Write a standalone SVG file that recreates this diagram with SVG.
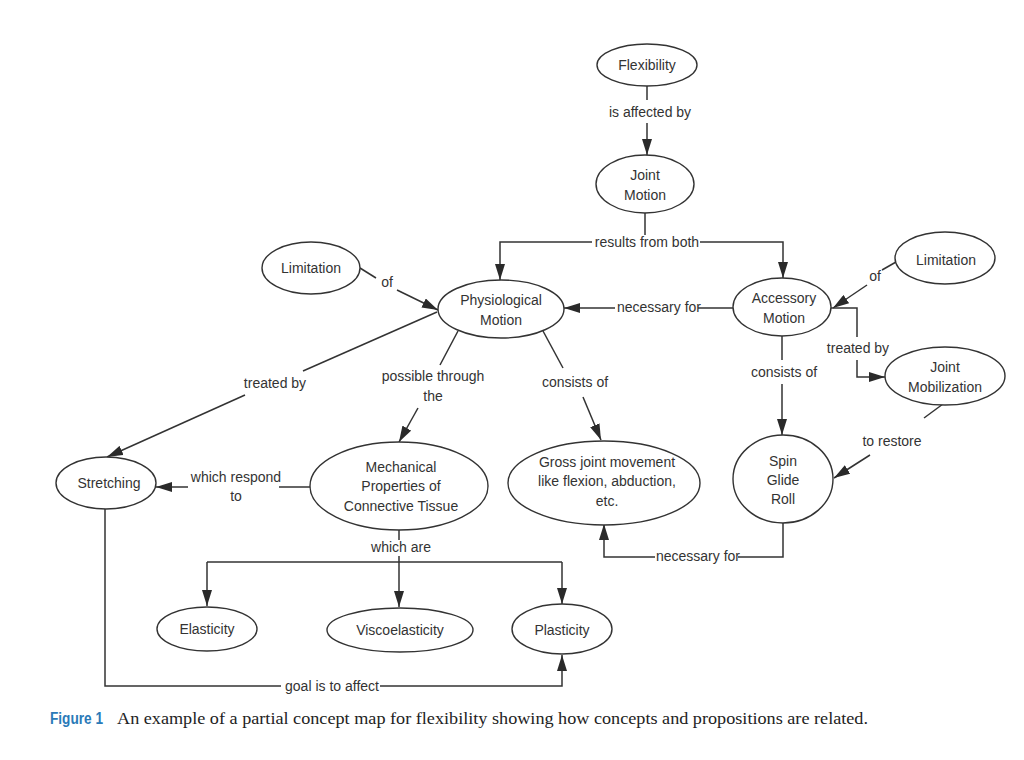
<svg xmlns="http://www.w3.org/2000/svg" width="1024" height="760" viewBox="0 0 1024 760">
<style>
.n ellipse{fill:#fff;stroke:#333;stroke-width:1.4}
text{font-family:"Liberation Sans",Arial,sans-serif;font-size:14px;fill:#333;text-anchor:middle}
.c path,.c line{fill:none;stroke:#333;stroke-width:1.5}
.a{marker-end:url(#ah)}
.cap{font-family:"Liberation Serif",serif;font-size:16px;fill:#222;text-anchor:start}
.fig{font-family:"Liberation Sans",sans-serif;font-weight:bold;font-size:16px;fill:#2a7ab8;text-anchor:start}
</style>
<defs>
<marker id="ah" markerUnits="userSpaceOnUse" markerWidth="17" markerHeight="10" refX="16" refY="5" orient="auto">
<path d="M0,0 L16,5 L0,10 Z" fill="#2a2a2a"/>
</marker>
</defs>
<rect width="1024" height="760" fill="#fff"/>
<g class="c" id="connectors">
<line x1="647" y1="86" x2="647" y2="100"/>
<line class="a" x1="647" y1="123" x2="647" y2="155"/>
<line x1="645" y1="213" x2="645" y2="235"/>
<path class="a" d="M592,242 H500 V280"/>
<path class="a" d="M700,242 H783 V278"/>
<line x1="360" y1="268" x2="376" y2="278"/>
<line class="a" x1="397" y1="290" x2="438" y2="310"/>
<line x1="735" y1="308" x2="698" y2="308"/>
<line class="a" x1="615" y1="308" x2="564" y2="308"/>
<line x1="896" y1="262" x2="882" y2="270"/>
<line class="a" x1="867" y1="285" x2="833" y2="308"/>
<path d="M831,308 H857 V337"/>
<path class="a" d="M857,360 V377 H885"/>
<line x1="782" y1="336" x2="782" y2="360"/>
<line class="a" x1="782" y1="384" x2="782" y2="435"/>
<line x1="943" y1="404" x2="924" y2="418"/>
<line class="a" x1="870" y1="455" x2="834" y2="478"/>
<line x1="437" y1="312" x2="303" y2="371"/>
<line class="a" x1="245" y1="395" x2="107" y2="457"/>
<line x1="458" y1="331" x2="440" y2="365"/>
<line class="a" x1="418" y1="408" x2="399" y2="442"/>
<line x1="543" y1="331" x2="563" y2="368"/>
<line class="a" x1="583" y1="397" x2="601" y2="440"/>
<line x1="310" y1="487" x2="279" y2="487"/>
<line class="a" x1="188" y1="487" x2="156" y2="487"/>
<line x1="399" y1="530" x2="399" y2="540"/>
<path class="a" d="M207,562 V606"/>
<path d="M207,562 H562"/>
<path class="a" d="M562,562 V604"/>
<line class="a" x1="399" y1="556" x2="399" y2="607"/>
<path d="M783,523 V557 H738"/>
<path class="a" d="M655,557 H604 V524"/>
<path d="M105,509 V686 H281"/>
<path class="a" d="M380,686 H562 V655"/>
</g>
<g id="labels">
<text x="650" y="117">is affected by</text>
<text x="647" y="247">results from both</text>
<text x="387" y="287">of</text>
<text x="659" y="312">necessary for</text>
<text x="875" y="281">of</text>
<text x="858" y="353">treated by</text>
<text x="784" y="377">consists of</text>
<text x="892" y="446">to restore</text>
<text x="275" y="388">treated by</text>
<text x="433" y="381">possible through</text>
<text x="433" y="401">the</text>
<text x="575" y="387">consists of</text>
<text x="236" y="482">which respond</text>
<text x="236" y="501">to</text>
<text x="401" y="552">which are</text>
<text x="698" y="561">necessary for</text>
<text x="332" y="691">goal is to affect</text>
</g>
<g class="n" id="flexibility"><ellipse cx="647" cy="65" rx="50" ry="21"/><text x="647" y="70">Flexibility</text></g>
<g class="n" id="joint-motion"><ellipse cx="645" cy="184" rx="49" ry="29"/><text x="645" y="180">Joint</text><text x="645" y="200">Motion</text></g>
<g class="n" id="limitation-left"><ellipse cx="311" cy="268" rx="49" ry="26"/><text x="311" y="273">Limitation</text></g>
<g class="n" id="physiological-motion"><ellipse cx="501" cy="309" rx="63" ry="29"/><text x="501" y="305">Physiological</text><text x="501" y="325">Motion</text></g>
<g class="n" id="accessory-motion"><ellipse cx="782" cy="307" rx="49" ry="29"/><text x="784" y="303">Accessory</text><text x="784" y="323">Motion</text></g>
<g class="n" id="limitation-right"><ellipse cx="945" cy="258" rx="50" ry="26"/><text x="946" y="265">Limitation</text></g>
<g class="n" id="joint-mobilization"><ellipse cx="945" cy="376" rx="60" ry="29"/><text x="945" y="372">Joint</text><text x="945" y="392">Mobilization</text></g>
<g class="n" id="stretching"><ellipse cx="106" cy="483" rx="50" ry="26"/><text x="109" y="488">Stretching</text></g>
<g class="n" id="mechanical-properties"><ellipse cx="399" cy="486" rx="89" ry="44"/><text x="401" y="472">Mechanical</text><text x="401" y="491">Properties of</text><text x="401" y="511">Connective Tissue</text></g>
<g class="n" id="gross-joint-movement"><ellipse cx="604" cy="483" rx="96" ry="42"/><text x="607" y="467">Gross joint movement</text><text x="607" y="486">like flexion, abduction,</text><text x="607" y="506">etc.</text></g>
<g class="n" id="spin-glide-roll"><ellipse cx="783" cy="479" rx="50" ry="44"/><text x="783" y="466">Spin</text><text x="783" y="485">Glide</text><text x="783" y="504">Roll</text></g>
<g class="n" id="elasticity"><ellipse cx="207" cy="629" rx="50" ry="22"/><text x="207" y="634">Elasticity</text></g>
<g class="n" id="viscoelasticity"><ellipse cx="400" cy="630" rx="73" ry="22"/><text x="400" y="635">Viscoelasticity</text></g>
<g class="n" id="plasticity"><ellipse cx="562" cy="629" rx="50" ry="25"/><text x="562" y="635">Plasticity</text></g>
<g id="caption">
<text class="fig" x="50" y="724" textLength="53" lengthAdjust="spacingAndGlyphs">Figure 1</text>
<text class="cap" x="117" y="724" textLength="751" lengthAdjust="spacingAndGlyphs">An example of a partial concept map for flexibility showing how concepts and propositions are related.</text>
</g>
</svg>
